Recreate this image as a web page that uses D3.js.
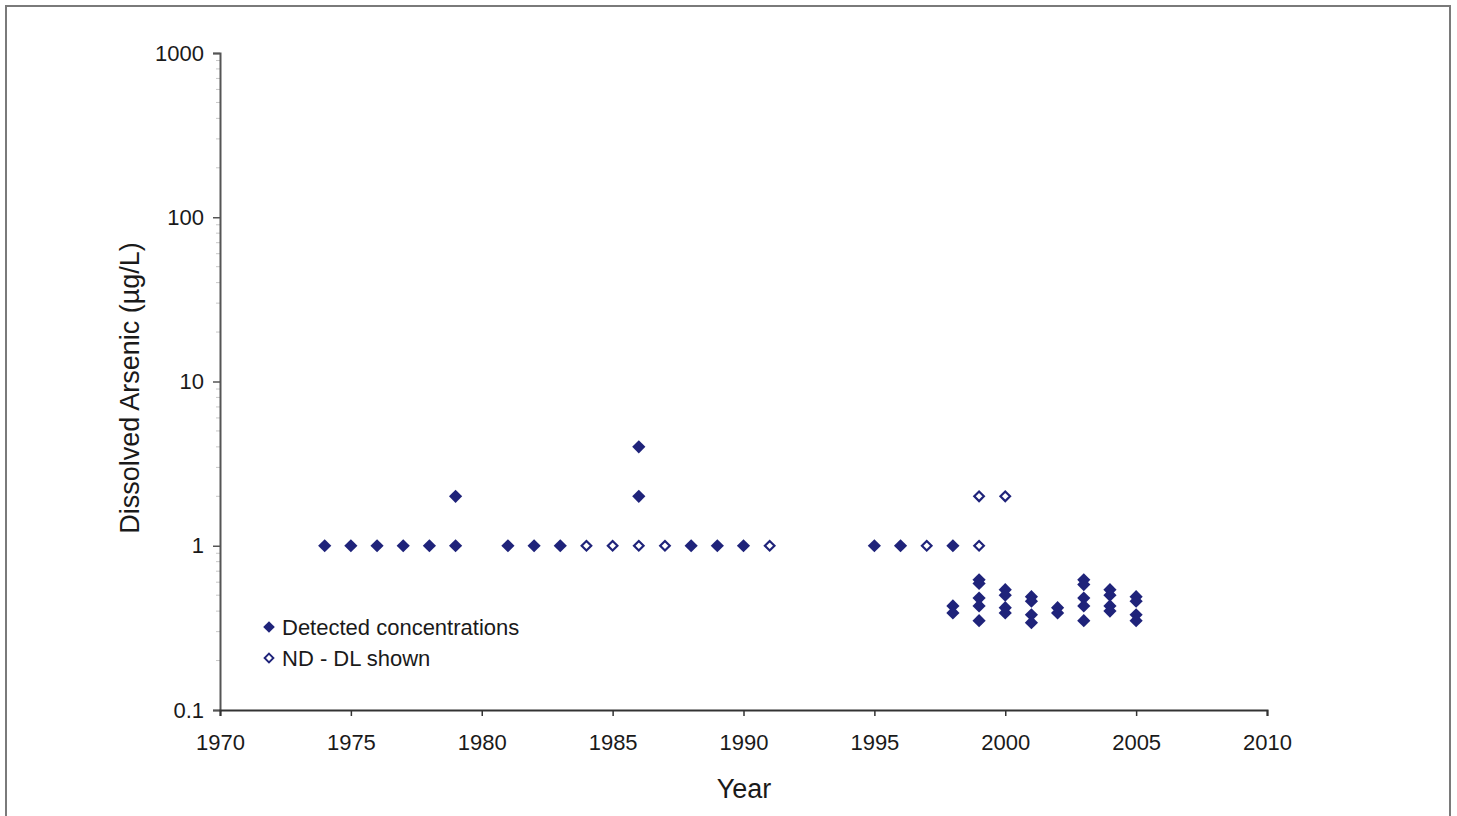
<!DOCTYPE html>
<html lang="en">
<head>
  <meta charset="UTF-8">
  <title>Dissolved Arsenic</title>
  <script src="https://d3js.org/d3.v7.min.js"></script>
  <style>
    body { margin: 0; background: #fff; }
    text { font-family: "Liberation Sans", Arial, sans-serif; fill: #1a1a1a; }
  </style>
</head>
<body>
  <svg width="1457" height="816"></svg>
  <script>
    // detected concentrations (filled diamonds)
    const detectedYears = [1974, 1975, 1976, 1977, 1978, 1979, 1979, 1981, 1982, 1983,
      1986, 1986, 1988, 1989, 1990, 1995, 1996, 1998,
      1998, 1998,
      1999, 1999, 1999, 1999, 1999,
      2000, 2000, 2000, 2000,
      2001, 2001, 2001, 2001,
      2002, 2002,
      2003, 2003, 2003, 2003, 2003,
      2004, 2004, 2004, 2004,
      2005, 2005, 2005, 2005];
    const detectedValues = [1, 1, 1, 1, 1, 1, 2, 1, 1, 1,
      4, 2, 1, 1, 1, 1, 1, 1,
      0.43, 0.39,
      0.62, 0.59, 0.48, 0.43, 0.35,
      0.54, 0.5, 0.42, 0.39,
      0.49, 0.46, 0.38, 0.34,
      0.42, 0.39,
      0.62, 0.58, 0.48, 0.43, 0.35,
      0.54, 0.5, 0.43, 0.4,
      0.49, 0.46, 0.38, 0.35];

    // non-detects, detection limit shown (open diamonds)
    const ndYears = [1984, 1985, 1986, 1987, 1991, 1997, 1999, 1999, 2000];
    const ndValues = [1, 1, 1, 1, 1, 1, 1, 2, 2];

    const xTicks = [1970, 1975, 1980, 1985, 1990, 1995, 2000, 2005, 2010];
    const yTicks = [0.1, 1, 10, 100, 1000];
    const legendLabels = ["Detected concentrations", "ND - DL shown"];

    const navy = "#1f237a";
    const svg = d3.select("svg");

    // outer frame
    svg.append("rect")
        .attr("x", 6).attr("y", 6)
        .attr("width", 1444).attr("height", 840)
        .attr("fill", "none")
        .attr("stroke", "#7a7a7a")
        .attr("stroke-width", 2);

    const x = d3.scaleLinear().domain([1970, 2010]).range([220, 1267]);
    const y = d3.scaleLog().domain([0.1, 1000]).range([710, 53]);

    // minor ticks on the log axis
    const minor = [];
    for (let d = 0.1; d < 1000; d *= 10)
      for (let k = 2; k <= 9; k++) minor.push(d * k);
    svg.append("g").selectAll("line")
      .data(minor)
      .join("line")
        .attr("x1", 216).attr("x2", 220)
        .attr("y1", d => y(d)).attr("y2", d => y(d))
        .attr("stroke", "#c8c8c8")
        .attr("stroke-width", 1);

    const yAxis = svg.append("g")
        .attr("transform", "translate(220,0)")
        .call(d3.axisLeft(y).tickValues(yTicks).tickSize(7).tickPadding(9)
          .tickFormat(d => d3.format("~g")(d)));
    yAxis.attr("font-size", 22).attr("font-family", "Liberation Sans, Arial, sans-serif");
    yAxis.select(".domain").attr("stroke", "#555").attr("stroke-width", 2);
    yAxis.selectAll(".tick line").attr("stroke", "#555").attr("stroke-width", 1.5);
    yAxis.selectAll(".tick text").attr("fill", "#1a1a1a");

    const xAxis = svg.append("g")
        .attr("transform", "translate(0,710)")
        .call(d3.axisBottom(x).tickValues(xTicks).tickSize(6).tickPadding(18)
          .tickFormat(d3.format("d")));
    xAxis.attr("font-size", 22).attr("font-family", "Liberation Sans, Arial, sans-serif");
    xAxis.select(".domain").attr("stroke", "#333").attr("stroke-width", 2);
    xAxis.selectAll(".tick line").attr("stroke", "#333").attr("stroke-width", 1.5);
    xAxis.selectAll(".tick text").attr("fill", "#1a1a1a");

    // axis titles
    svg.append("text")
        .attr("x", 744).attr("y", 798)
        .attr("text-anchor", "middle")
        .attr("font-size", 27)
        .text("Year");
    svg.append("text")
        .attr("transform", "translate(139,388) rotate(-90)")
        .attr("text-anchor", "middle")
        .attr("font-size", 27)
        .text("Dissolved Arsenic (µg/L)");

    const diamond = s => `M0,${-s}L${s},0L0,${s}L${-s},0Z`;

    svg.append("g").selectAll("path")
      .data(d3.zip(detectedYears, detectedValues))
      .join("path")
        .attr("d", diamond(6.6))
        .attr("transform", d => `translate(${x(d[0])},${y(d[1])})`)
        .attr("fill", navy);

    svg.append("g").selectAll("path")
      .data(d3.zip(ndYears, ndValues))
      .join("path")
        .attr("d", diamond(4.8))
        .attr("transform", d => `translate(${x(d[0])},${y(d[1])})`)
        .attr("fill", "#fff")
        .attr("stroke", navy)
        .attr("stroke-width", 2.2);

    // legend
    const legend = svg.append("g").attr("transform", "translate(269,627)");
    legendLabels.forEach((label, i) => {
      const row = legend.append("g").attr("transform", `translate(0,${i * 31})`);
      row.append("path")
          .attr("d", diamond(i === 0 ? 5.8 : 4.4))
          .attr("fill", i === 0 ? navy : "#fff")
          .attr("stroke", i === 0 ? "none" : navy)
          .attr("stroke-width", 1.9);
      row.append("text")
          .attr("x", 13).attr("y", 8)
          .attr("font-size", 22)
          .text(label);
    });
  </script>
</body>
</html>
